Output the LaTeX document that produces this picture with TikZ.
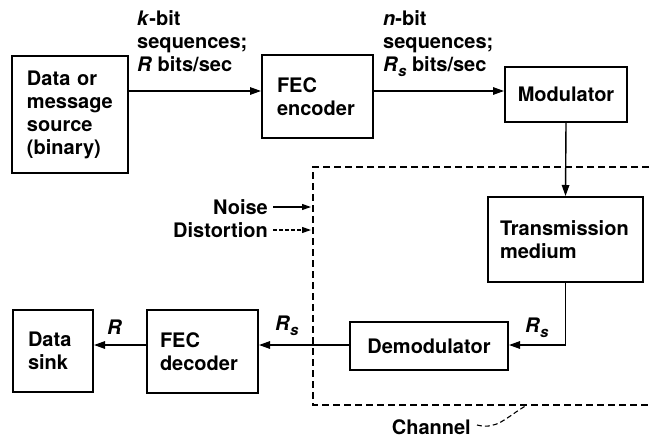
\documentclass[tikz,border=0pt]{standalone}
\usepackage{fontspec}
\setmainfont{TeX Gyre Heros}
\usetikzlibrary{arrows.meta}
\newcommand\Rsub{\textit{R}\raisebox{-0.5ex}{\textit{\fontsize{15}{15}\selectfont s}}}
\begin{document}
\begin{tikzpicture}[x=1pt,y=-1pt,
  font=\fontsize{20}{23}\selectfont\bfseries,
  blk/.style={draw, line width=2pt, rectangle, inner ysep=0pt},
  lblk/.style={blk, align=left, inner xsep=#1},
  arr/.style={line width=1.4pt, -{Triangle[length=11pt,width=7.5pt]}},
  chan/.style={line width=1.4pt, dash pattern=on 7pt off 4pt},
  lbl/.style={inner sep=0pt, align=left}]
\useasboundingbox (0,0) rectangle (650,439);
% blocks
\node[lblk=15pt, text width=86pt, minimum height=117pt] (src) at (70,114.5) {Data or\\message\\source\\(binary)};
\node[lblk=15pt, text width=81pt, minimum height=83pt] (enc) at (317.5,96.5) {FEC\\encoder};
\node[blk, minimum width=122pt, minimum height=55pt] (mod) at (566,94.5) {Modulator};
\node[lblk=12pt, text width=131pt, minimum height=85pt] (tm) at (565.5,239.5) {Transmission\\medium};
\node[blk, minimum width=158pt, minimum height=48pt] (demod) at (429,346) {Demodulator};
\node[lblk=13pt, text width=85pt, minimum height=83pt] (dec) at (202.5,351.5) {FEC\\decoder};
\node[lblk=15pt, text width=50pt, minimum height=82pt] (sink) at (53,351) {Data\\sink};
% channel dashed box
\draw[chan] (660,167) -- (313,167) -- (313,405) -- (660,405);
% connectors
\coordinate (row1) at (0,91);
\coordinate (row2) at (0,345);
\draw[arr] (src.east |- row1) -- (enc.west |- row1);
\draw[arr] (enc.east |- row1) -- (mod.west |- row1);
\draw[arr] (mod.south) -- (tm.north);
\coordinate (bend) at (tm.south |- row2);
\draw[arr] (tm.south) -- (bend) -- (demod.east |- row2);
\draw[arr] (demod.west |- row2) -- (dec.east |- row2);
\draw[arr] (dec.west |- row2) -- (sink.east |- row2);
% rate labels
\node[lbl, anchor=north west] (lk) at (137,10) {\textit{k}-bit\\sequences;\\\textit{R} bits/sec};
\node[lbl, anchor=north west] (ln) at (383,10) {\textit{n}-bit\\sequences;\\\Rsub\ bits/sec};
\node[lbl, anchor=west] (lr1) at (525,328) {\Rsub};
\node[lbl, anchor=west] (lr2) at (275,326) {\Rsub};
\node[lbl, anchor=west] (lr3) at (107,327) {\textit{R}};
% noise & distortion
\node[lbl, anchor=east] (noise) at (268,207) {Noise};
\node[lbl, anchor=east] (dist) at (268,230) {Distortion};
\coordinate (nend) at (311,207);
\coordinate (dend) at (311,230);
\draw[line width=1.1pt, -{Triangle[length=9pt,width=6pt]}] ([xshift=5pt]noise.east) -- (nend);
\draw[line width=1.1pt, dash pattern=on 4pt off 2pt, -{Triangle[length=9pt,width=6pt]}] ([xshift=5pt]dist.east) -- (dend);
% channel label
\node[lbl, anchor=east] (ch) at (471,427) {Channel};
\coordinate (chend) at (527,405);
\draw[line width=1.1pt, dash pattern=on 5pt off 3pt] ([xshift=6pt,yshift=2pt]ch.east) .. controls (497,430) and (505,418) .. (chend);
\end{tikzpicture}
\end{document}
